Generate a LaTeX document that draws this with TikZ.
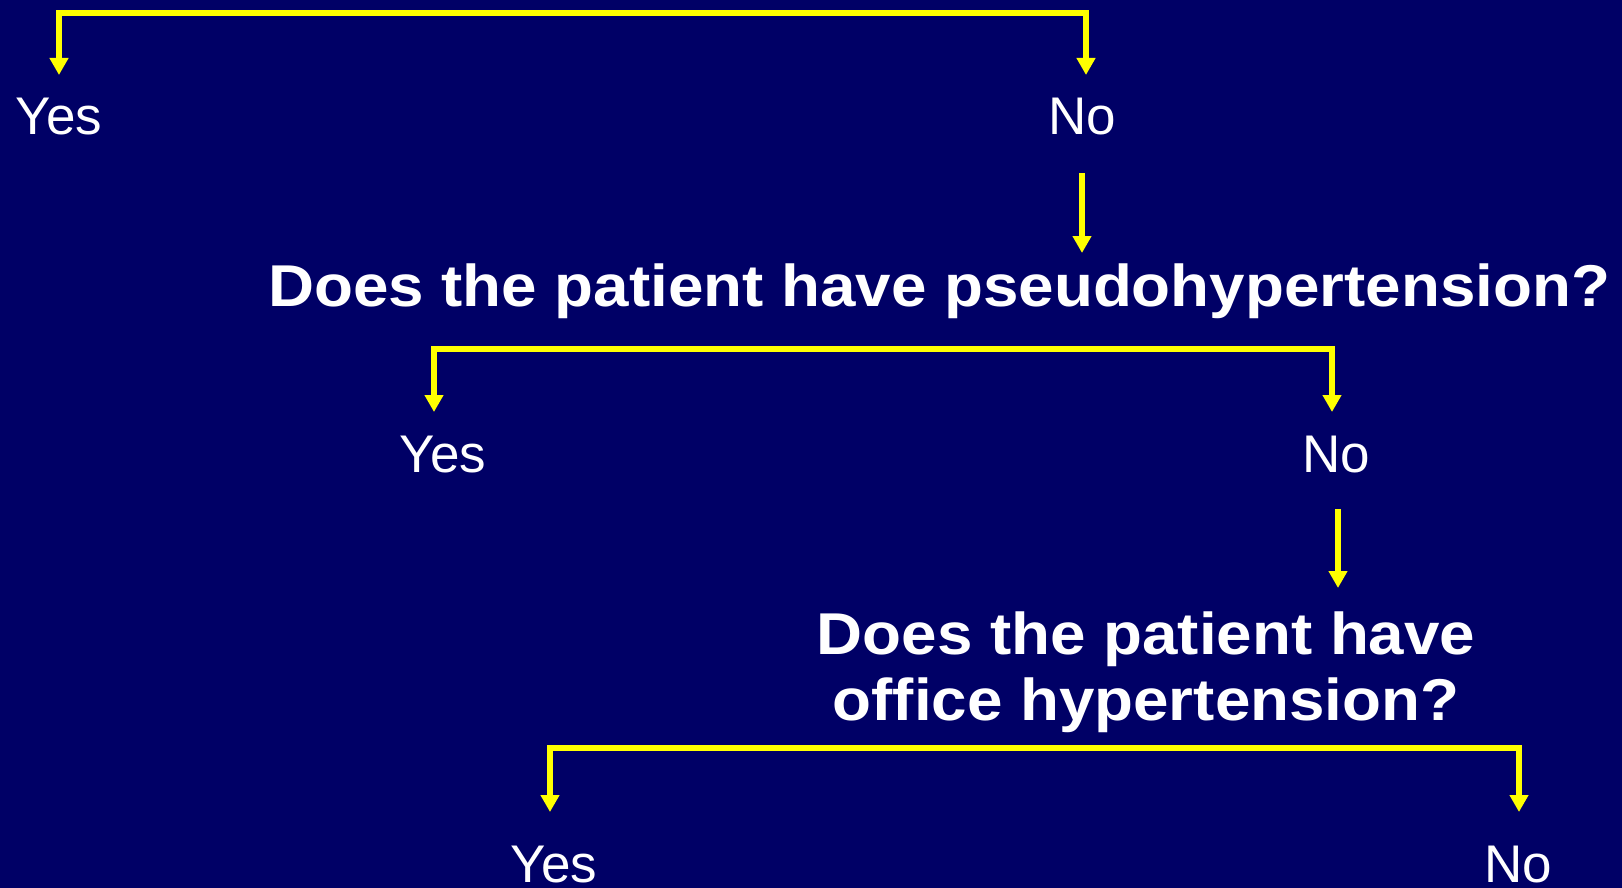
\documentclass[tikz,border=0pt]{standalone}
\usepackage{fontspec}
\setmainfont{Liberation Sans}
\newfontfamily\askfont[FakeStretch=1.08]{Liberation Sans Bold}
\usetikzlibrary{arrows.meta}
\definecolor{slidebg}{RGB}{0,0,102}
\definecolor{slideyel}{RGB}{255,255,0}
\tikzset{
  answer/.style={anchor=base, text=white, inner sep=0pt, font=\fontsize{53}{60}\selectfont},
  ask/.style={anchor=base, text=white, inner sep=0pt, align=center, font=\askfont\fontsize{59}{66}\selectfont},
  arr/.style={draw=slideyel, line width=5.5pt, -{Triangle[width=18pt,length=17pt]}},
  fork/.style={draw=slideyel, line width=5.5pt, {Triangle[width=18pt,length=17pt]}-{Triangle[width=18pt,length=17pt]}}
}
\begin{document}
\begin{tikzpicture}[x=1pt,y=-1pt]
\useasboundingbox (0,0) rectangle (1622,888);
\fill[slidebg] (0,0) rectangle (1622,888);

% first answer pair
\node[answer] (yes1) at (59,135) {Yes};
\node[answer] (no1) at (1082,135) {No};
\draw[fork] (59,75) -- (59,13) -- (1086,13) -- (1086,75);
\coordinate (a1s) at (1082,173);
\coordinate (a1e) at (1082,253);
\draw[arr] (a1s) -- (a1e);

% pseudohypertension
\node[ask] (q2) at (939,306) {Does the patient have pseudohypertension?};
\node[answer] (yes2) at (443,472) {Yes};
\node[answer] (no2) at (1336,472) {No};
\draw[fork] (434,412) -- (434,349) -- (1332,349) -- (1332,412);
\coordinate (a2s) at (1338,509);
\coordinate (a2e) at (1338,588);
\draw[arr] (a2s) -- (a2e);

% office hypertension
\node[ask, anchor=north] (q3) at (1146,612) {Does the patient have\\office hypertension?};
\node[answer] (yes3) at (554,882) {Yes};
\node[answer] (no3) at (1518,882) {No};
\draw[fork] (550,812) -- (550,748) -- (1519,748) -- (1519,812);
\end{tikzpicture}
\end{document}
